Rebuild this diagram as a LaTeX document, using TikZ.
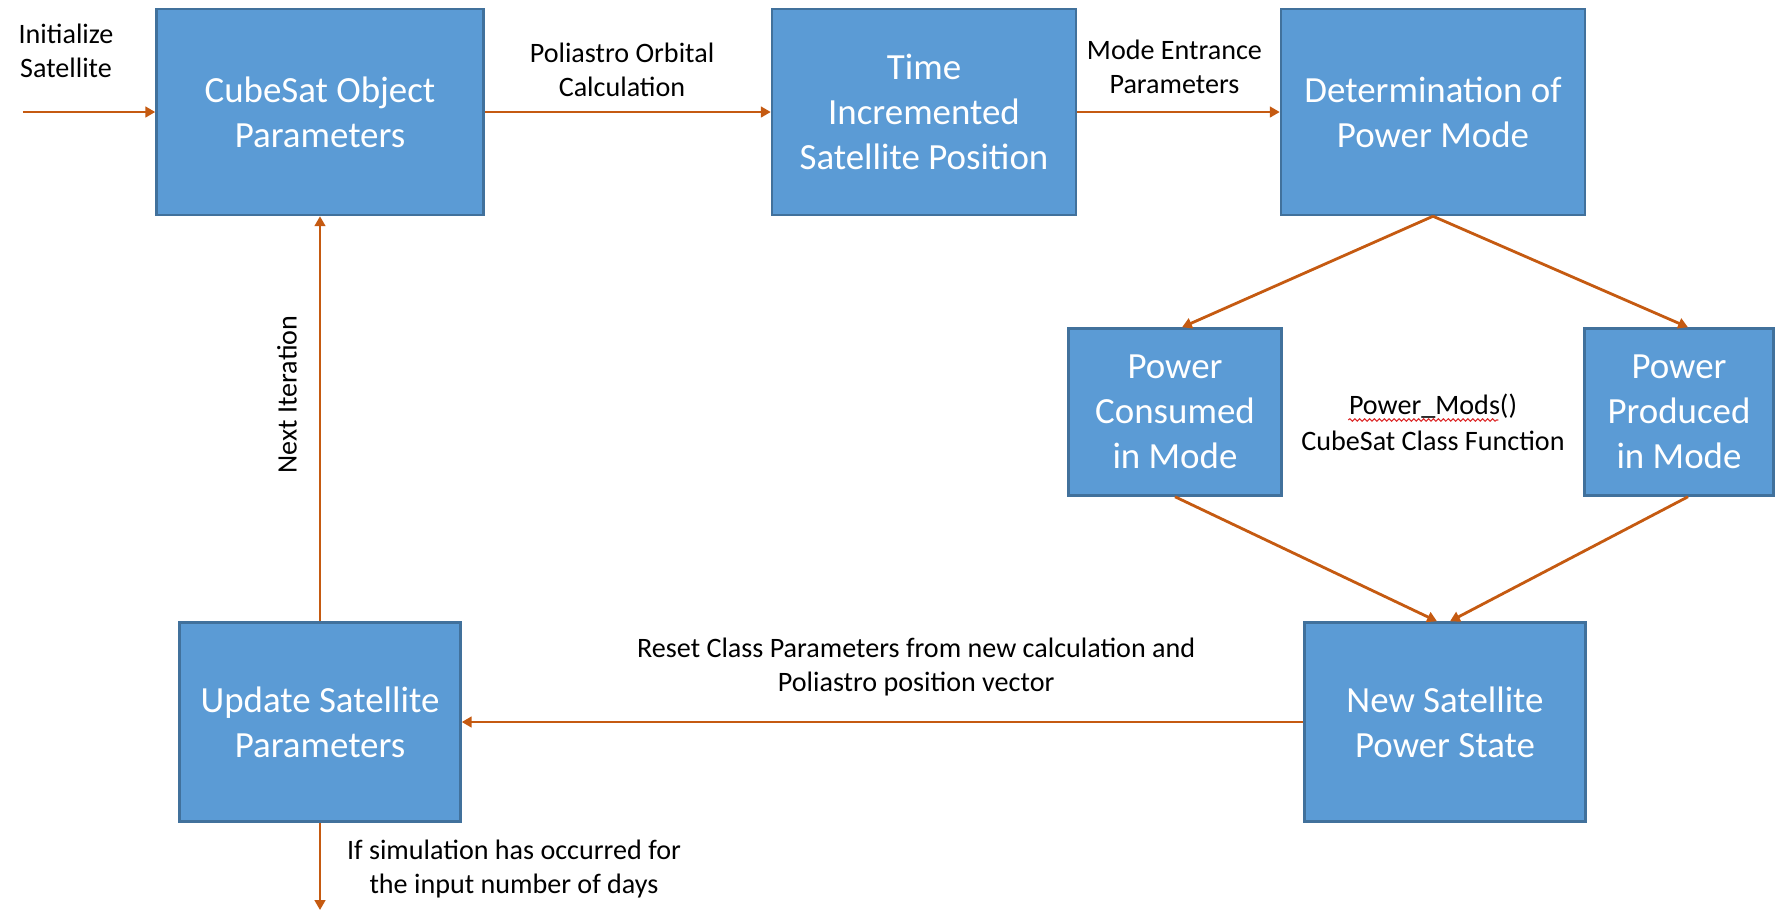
\documentclass[tikz,border=0pt]{standalone}
\usepackage{fontspec}
\setmainfont{Carlito}
\usepackage{tikz}
\usetikzlibrary{arrows.meta,positioning,decorations.pathmorphing}
\definecolor{boxblue}{RGB}{91,155,213}
\definecolor{edgeblue}{RGB}{65,113,156}
\definecolor{linkorange}{RGB}{197,90,17}
\definecolor{spellred}{RGB}{220,40,40}

\begin{document}
\begin{tikzpicture}[
    block/.style={rectangle, draw=edgeblue, line width=0.7pt, fill=boxblue, text=white,
        align=center, inner sep=1pt, font=\fontsize{10.5}{12.8}\selectfont},
    lbl/.style={align=center, inner sep=1pt, text=black, font=\fontsize{8}{9.6}\selectfont},
    arr/.style={-{Triangle[length=2.8pt, width=3pt]}, line width=0.8pt, linkorange}
]
    \useasboundingbox (0,0) rectangle (17.78,-9.14);

    % main loop boxes
    \node[block, minimum width=3.27cm, minimum height=2.06cm] (cube) at (3.20,-1.12) {CubeSat Object\\Parameters};
    \node[block, minimum width=3.04cm, minimum height=2.06cm] (time) at (9.24,-1.12) {Time\\Incremented\\Satellite Position};
    \node[block, minimum width=3.04cm, minimum height=2.06cm] (mode) at (14.33,-1.12) {Determination of\\Power Mode};
    \node[block, minimum width=2.13cm, minimum height=1.67cm] (used) at (11.75,-4.12) {Power\\Consumed\\in Mode};
    \node[block, minimum width=1.89cm, minimum height=1.67cm] (made) at (16.79,-4.12) {Power\\Produced\\in Mode};
    \node[block, minimum width=2.81cm, minimum height=1.99cm] (state) at (14.45,-7.22) {New Satellite\\Power State};
    \node[block, minimum width=2.81cm, minimum height=1.99cm] (upd) at (3.20,-7.22) {Update Satellite\\Parameters};

    % free ends
    \coordinate (start) at (0.23,-1.12);
    \coordinate (stop) at (3.20,-9.10);

    \node[lbl] (initlbl) at (0.66,-0.51) {Initialize\\Satellite};
    \node[lbl] (mods) at (14.33,-4.06) {Power\_Mods()};
    \node[lbl] (cls) at (14.33,-4.41) {CubeSat Class Function};
    \node[lbl] (donelbl) at (5.14,-8.69) {If simulation has occurred for\\the input number of days};

    \draw[spellred, line width=0.3pt, decorate, decoration={snake, amplitude=0.35pt, segment length=1.4pt}]
        ([xshift=1pt, yshift=-1.6pt]mods.base west) -- ([xshift=-6.5pt, yshift=-1.6pt]mods.base east);

    \draw[arr] (start) -- (cube);
    \draw[arr] (cube) -- node[lbl, pos=0.48, yshift=0.42cm] {Poliastro Orbital\\Calculation} (time);
    \draw[arr] (time) -- node[lbl, pos=0.48, yshift=0.45cm] {Mode Entrance\\Parameters} (mode);
    \draw[arr] (mode.south) -- ([xshift=0.07cm]used.north);
    \draw[arr] (mode.south) -- ([xshift=0.09cm]made.north);
    \draw[arr] (used.south) -- ([xshift=-0.08cm]state.north);
    \draw[arr] ([xshift=0.09cm]made.south) -- ([xshift=0.05cm]state.north);
    \draw[arr] (state) -- node[lbl, pos=0.46, yshift=0.55cm] {Reset Class Parameters from new calculation and\\Poliastro position vector} (upd);
    \draw[arr] (upd) -- node[lbl, pos=0.56, xshift=-0.33cm, rotate=90] {Next Iteration} (cube);
    \draw[arr] (upd) -- (stop);
\end{tikzpicture}
\end{document}
